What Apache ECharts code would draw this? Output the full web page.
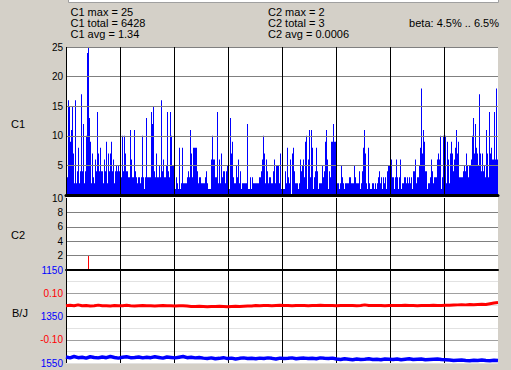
<!DOCTYPE html>
<html><head><meta charset="utf-8">
<script src="https://cdn.jsdelivr.net/npm/echarts@6/dist/echarts.min.js"></script>
<style>html,body{margin:0;padding:0;background:#d4d0c8}#c{width:511px;height:370px}</style>
</head><body><div id="c"></div>
<script>
// ---- data ----
const c1Values = [
 8,3,16,15,9,11,15,7,2,16, 2,4,8,2,4,17,4,12,2,4, 10,24,25,13,9,2,7,3,2,6, 4,14,7,4,8,4,4,2,6,4, 9,2,7,4,7,9,4,6,2,4, 5,4,5,4,
 4,3,10,4,10,7,4,4,3,3, 11,6,3,3,11,4,3,2,3,3, 2,3,10,3,1,3,13,3,3,3, 3,14,12,15,4,3,7,3,3,5, 3,16,4,6,3,3,5,14,4,3, 14,10,5,5,
 3,1,3,2,1,8,1,2,8,2, 2,2,2,3,4,3,11,7,3,8, 8,8,8,4,2,3,3,2,2,2, 2,3,4,2,1,1,1,6,10,6, 6,3,3,14,2,6,2,7,3,4, 4,2,4,5,
 5,1,13,7,9,3,2,2,5,3, 6,2,4,1,2,2,2,2,2,12, 1,1,3,1,3,2,2,2,2,2, 2,3,3,4,6,10,7,2,6,4, 2,3,3,2,2,4,6,2,5,5, 5,2,7,1,
 1,1,1,4,2,8,3,2,6,0, 7,8,4,2,2,2,1,2,6,4, 5,6,3,9,10,1,6,11,3,11, 8,1,3,4,8,4,1,2,2,2, 5,3,4,9,11,6,1,4,3,9, 9,12,9,9,
 2,2,2,1,2,5,3,2,1,2, 2,2,2,3,3,2,2,2,5,3, 2,2,2,4,1,2,4,8,11,7, 2,1,8,2,1,1,2,2,1,2, 1,2,3,4,2,3,1,3,2,3, 1,4,5,5,
 3,6,3,3,1,3,6,3,1,3, 6,1,2,2,3,3,2,3,2,3, 2,3,1,4,4,6,2,3,3,5, 8,18,7,11,9,4,4,1,2,2, 3,6,4,2,3,3,3,6,7,6, 10,1,3,10,
 10,10,2,9,6,2,7,9,7,4, 6,8,11,7,9,3,3,3,3,4, 5,4,7,5,3,5,5,6,10,13, 7,12,8,7,5,17,7,4,7,4, 5,3,11,7,3,14,7,8,6,6, 14,6,18,6
];
const c2Index = [22];
const c2Values = [2];
const bjRed = [
 0.046,0.048,0.046,0.05,0.046,0.047,0.045,0.046,0.049,0.046, 0.046,0.045,0.047,0.046,0.046,0.048,0.046,0.045,0.046,0.047,
 0.046,0.046,0.045,0.046,0.047,0.046,0.046,0.045,0.046,0.046, 0.045,
 0.043,0.043,0.044,0.043,0.042,0.043,0.043,0.044,0.043,0.042,0.043,0.044,0.043,0.044,0.045,0.045,
 0.047,0.046,0.047,0.047,0.046,0.047,0.048,0.047,0.047,0.046, 0.047,0.047,0.047,0.046,0.047,0.047,0.048,0.047,0.047,0.047,
 0.046,0.047,0.047,0.047,0.047,0.046,0.047,0.05,0.047,0.047, 0.047,0.047,0.046,0.047,0.047,0.047,0.047,0.048,0.047,0.047,
 0.046,0.047,0.047,0.047,0.048,0.047,0.047,0.048,0.048,0.049,
 0.05,0.051,0.05,0.052,0.051,0.052,0.053,0.052,
 0.055,0.058,0.06
];
const bjBlue = [
 1524,1528,1522,1527,1525,1529,1523,1526,1528,1524, 1527,1522,1526,1529,1525,1523,1527,1526,1524,1528,
 1525,1527,1523,1526,1529,1524,1526,1528,1525,1522, 1527,1525,1528,1526,
 1529,1531,1528,1532,1530,1527,1531,1529,1533,1530, 1528,1531,1530,1532,1529,1531,1528,1530,1533,1529,
 1531,1530,1528,1532,1530,1529,1531,1530,1532,1528, 1530,1531,1529,
 1533,1535,1532,1534,1536,1533,1535,1534,1532,1535, 1534,1536,1533,1534,1535,1533,1536,1534,1532,1535,
 1534,1533,1536,1535,1534,1533,1535,1536,
 1537,1539,1538,1537,1539,1540,1538,1539,1537,1539,1540,1538,1539
];
const c1Axis = [0, 25, 5];      // min, max, step
const c2Axis = [0, 10, 2];
const redAxis = [-0.2, 0.2, 0.05];
const redTickValues = [0.1, -0.1];
const redTickText = ['0.10', '-0.10'];
const blueAxis = [1150, 1550, 200];
const blueTickValues = [1150, 1350, 1550];
const headerCol1 = ['C1 max = 25', 'C1 total = 6428', 'C1 avg = 1.34'];
const headerCol2 = ['C2 max = 2', 'C2 total = 3', 'C2 avg = 0.0006'];
const headerRight = 'beta: 4.5% .. 6.5%';
const panelNames = ['C1', 'C2', 'B/J'];

// ---- chart ----
const FONT = 'Liberation Sans, Arial, sans-serif';
const N = c1Values.length;
const cats = c1Values.map((_, i) => i);
const bjCats = bjRed.map((_, i) => i);
const c2Data = c2Index.map((idx, j) => [idx, c2Values[j]]);
const L = 66, W = 432;

const vLines = (gi, z) => ({
  type: 'value', gridIndex: gi, min: 0, max: N, interval: 54, position: 'top', z: z,
  axisLine: {show: false}, axisTick: {show: false}, axisLabel: {show: false},
  splitLine: {show: true, showMaxLine: false, lineStyle: {color: '#000', width: 1}}
});
const lbl = (color, extra) => Object.assign({margin: 3, color: color, fontSize: 10, fontFamily: FONT}, extra || {});

const chart = echarts.init(document.getElementById('c'), null, {renderer: 'svg'});
const textEl = (t, x, y, align) => ({
  type: 'text', x: x, y: y, silent: true,
  style: {text: t, fill: '#000', font: '11px ' + FONT, align: align || 'left', verticalAlign: 'middle'}
});

chart.setOption({
  animation: false,
  backgroundColor: '#d4d0c8',
  grid: [
    {left: L, top: 47, width: W, height: 148},
    {left: L, top: 198, width: W, height: 72},
    {left: L, top: 270, width: W, height: 93}
  ],
  xAxis: [
    {type: 'category', gridIndex: 0, data: cats, z: 5,
     axisLine: {show: true, onZero: false, lineStyle: {color: '#000', width: 3}},
     axisTick: {show: false}, axisLabel: {show: false}, splitLine: {show: false}},
    vLines(0, 5),
    {type: 'category', gridIndex: 1, data: cats, z: 5,
     axisLine: {show: true, onZero: false, lineStyle: {color: '#000', width: 2}},
     axisTick: {show: false}, axisLabel: {show: false}, splitLine: {show: false}},
    vLines(1, 5),
    {type: 'category', gridIndex: 2, data: bjCats, boundaryGap: false, show: false},
    vLines(2, 1)
  ],
  yAxis: [
    {type: 'value', gridIndex: 0, min: c1Axis[0], max: c1Axis[1], interval: c1Axis[2], z: 5,
     axisLine: {show: false}, axisTick: {show: false},
     axisLabel: lbl('#000', {showMinLabel: false}),
     splitLine: {show: true, showMinLine: false, lineStyle: {color: '#808080', width: 1}}},
    {type: 'value', gridIndex: 1, min: c2Axis[0], max: c2Axis[1], interval: c2Axis[2], z: 5,
     axisLine: {show: false}, axisTick: {show: false},
     axisLabel: lbl('#000', {showMinLabel: false}),
     splitLine: {show: true, showMinLine: false, showMaxLine: false, lineStyle: {color: '#808080', width: 1}}},
    {type: 'value', gridIndex: 2, position: 'left', min: redAxis[0], max: redAxis[1], interval: redAxis[2], z: 1,
     axisLine: {show: false}, axisTick: {show: false},
     axisLabel: lbl('#ff0000', {formatter: v => {
       const i = redTickValues.findIndex(t => Math.abs(t - v) < 1e-9);
       return i >= 0 ? redTickText[i] : '';
     }}),
     splitLine: {show: true, lineStyle: {color: ['#e2e2e2', '#e2e2e2', '#a0a0a0', '#e2e2e2'], width: 1}}},
    {type: 'value', gridIndex: 2, position: 'left', inverse: true, min: blueAxis[0], max: blueAxis[1], interval: blueAxis[2], z: 1.2,
     axisLine: {show: false}, axisTick: {show: false},
     axisLabel: lbl('#0000ff', {formatter: v => blueTickValues.indexOf(v) >= 0 ? String(v) : ''}),
     splitLine: {show: true, showMinLine: false, showMaxLine: false, lineStyle: {color: '#000', width: 1}}}
  ],
  series: [
    {type: 'bar', xAxisIndex: 0, yAxisIndex: 0, data: c1Values, barWidth: 1, barCategoryGap: '0%',
     itemStyle: {color: '#0000ff'}, silent: true, z: 2},
    {type: 'bar', xAxisIndex: 2, yAxisIndex: 1, data: c2Data, barWidth: 1,
     itemStyle: {color: '#ff0000'}, silent: true, z: 2},
    {type: 'line', xAxisIndex: 4, yAxisIndex: 2, data: bjRed, symbol: 'none', silent: true, z: 2,
     lineStyle: {color: '#ff0000', width: 3}},
    {type: 'line', xAxisIndex: 4, yAxisIndex: 3, data: bjBlue, symbol: 'none', silent: true, z: 2,
     lineStyle: {color: '#0000ff', width: 3.5}}
  ],
  graphic: [
    {type: 'rect', z: -1, silent: true, shape: {x: L, y: 47, width: W, height: 317}, style: {fill: '#ffffff'}},
    {type: 'rect', silent: true, shape: {x: 68.5, y: -3, width: 430, height: 5.5}, style: {fill: '#ffffff', stroke: '#a0a0a0', lineWidth: 1}},
    textEl(headerCol1[0], 70.5, 11.5), textEl(headerCol1[1], 70.5, 22.5), textEl(headerCol1[2], 70.5, 33.5),
    textEl(headerCol2[0], 268, 11.5), textEl(headerCol2[1], 268, 22.5), textEl(headerCol2[2], 268, 33.5),
    textEl(headerRight, 499, 22.5, 'right'),
    textEl(panelNames[0], 11, 123.5), textEl(panelNames[1], 11, 235), textEl(panelNames[2], 12, 313)
  ]
});
</script></body></html>
